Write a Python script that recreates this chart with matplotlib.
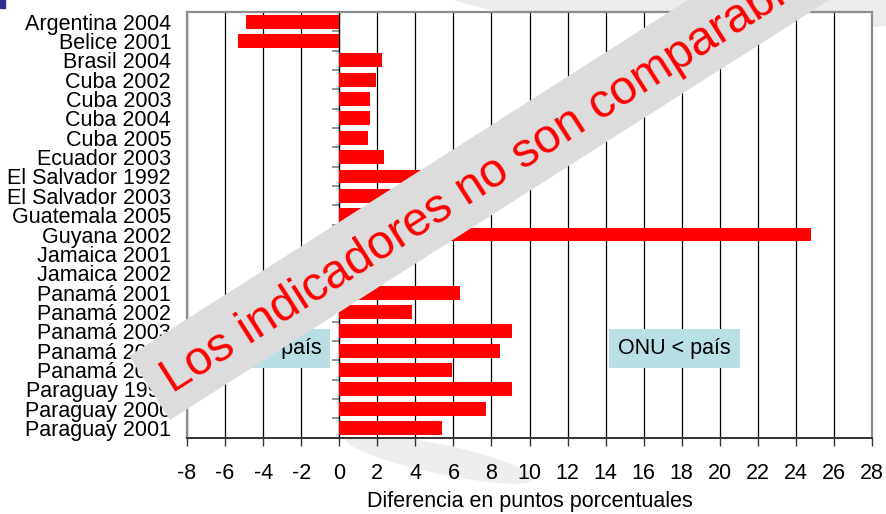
import numpy as np
import matplotlib
matplotlib.use("Agg")
import matplotlib.pyplot as plt
import matplotlib.patches as mpatches

plt.rcParams['font.family'] = ['Liberation Sans', 'DejaVu Sans']

# country / year rows, top to bottom
paises = ["Argentina 2004", "Belice 2001", "Brasil 2004", "Cuba 2002", "Cuba 2003",
          "Cuba 2004", "Cuba 2005", "Ecuador 2003", "El Salvador 1992",
          "El Salvador 2003", "Guatemala 2005", "Guyana 2002", "Jamaica 2001",
          "Jamaica 2002", "Panamá 2001", "Panamá 2002", "Panamá 2003",
          "Panamá 2004", "Panamá 2005", "Paraguay 1995", "Paraguay 2000",
          "Paraguay 2001"]
# difference in percentage points
diferencia = [-4.9, -5.33, 2.25, 1.93, 1.6, 1.6, 1.5, 2.35, 5.5, 4.0, 2.5, 24.8,
              3.0, 1.5, 6.35, 3.83, 9.1, 8.45, 5.95, 9.1, 7.72, 5.4]
xticks = list(range(-8, 29, 2))

fs = 15.5

fig = plt.figure(figsize=(8.86, 5.14), dpi=100)

# faint template swooshes in the background
fig.patches.append(mpatches.Ellipse((7.6, 5.3), 6.5, 0.9, transform=fig.dpi_scale_trans,
                                    color='#ececec', zorder=-2))
fig.patches.append(mpatches.Ellipse((4.4, 0.55), 1.9, 0.28, angle=-12,
                                    transform=fig.dpi_scale_trans,
                                    color='#eeeeee', zorder=-2))

ax = fig.add_axes([0.2111, 0.1484, 0.7731, 0.8283])

y = np.arange(len(paises))
ax.barh(y, diferencia, height=0.72, color='#ff0000', zorder=3)

ax.set_xlim(-8, 28)
ax.set_ylim(len(paises) - 0.5, -0.5)
ax.set_xticks(xticks)
ax.set_xticklabels([str(t) for t in xticks], fontsize=fs)
ax.set_yticks(y)
ax.set_yticklabels(paises, fontsize=fs)
ax.tick_params(axis='y', length=0, pad=11.5)
ax.tick_params(axis='x', direction='out', length=6, width=1, color='#333333', pad=12)
ax.grid(axis='x', color='black', linewidth=0.9, zorder=1)
ax.set_axisbelow(True)

for s in ['left', 'top', 'right']:
    ax.spines[s].set_color('#8c8c8c')
    ax.spines[s].set_linewidth(1.6)
ax.spines['bottom'].set_color('#333333')
ax.spines['bottom'].set_linewidth(1.4)

ax.set_xlabel('Diferencia en puntos porcentuales', fontsize=fs, labelpad=5)

# category axis crossing at zero, with small tick marks between rows
sec = ax.secondary_yaxis(8 / 36)
sec.set_yticks(np.arange(len(paises) + 1) - 0.5)
sec.set_yticklabels([])
sec.tick_params(length=5, width=1.2, color='#808080', direction='out')
sec.spines['left'].set_color('black')
sec.spines['left'].set_linewidth(0.9)

box = dict(boxstyle='square,pad=0.42', facecolor='#b8dfe3', edgecolor='none')
ax.text(-3.91, 16.9, 'ONU > país', fontsize=fs, ha='center', va='center', bbox=box, zorder=5)
ax.text(17.63, 16.9, 'ONU < país', fontsize=fs, ha='center', va='center', bbox=box, zorder=5)

# small template mark in the corner
fig.patches.append(mpatches.Rectangle((0, 1 - 8 / 514), 5 / 886, 8 / 514,
                                      transform=fig.transFigure, color='#2e3192'))

# diagonal banner
ang = 32.5
fig.patches.append(mpatches.Rectangle((1.70, 0.94), 10, 0.76, angle=ang,
                                      transform=fig.dpi_scale_trans,
                                      facecolor='#dcdcdc', edgecolor='none', zorder=9))
fig.text(0.1947, 0.2342, 'Los indicadores no son comparables', fontsize=34.5,
         color='#ff0000', rotation=ang, rotation_mode='anchor', ha='left', va='baseline',
         zorder=10)

plt.savefig('out.png', dpi=100)
